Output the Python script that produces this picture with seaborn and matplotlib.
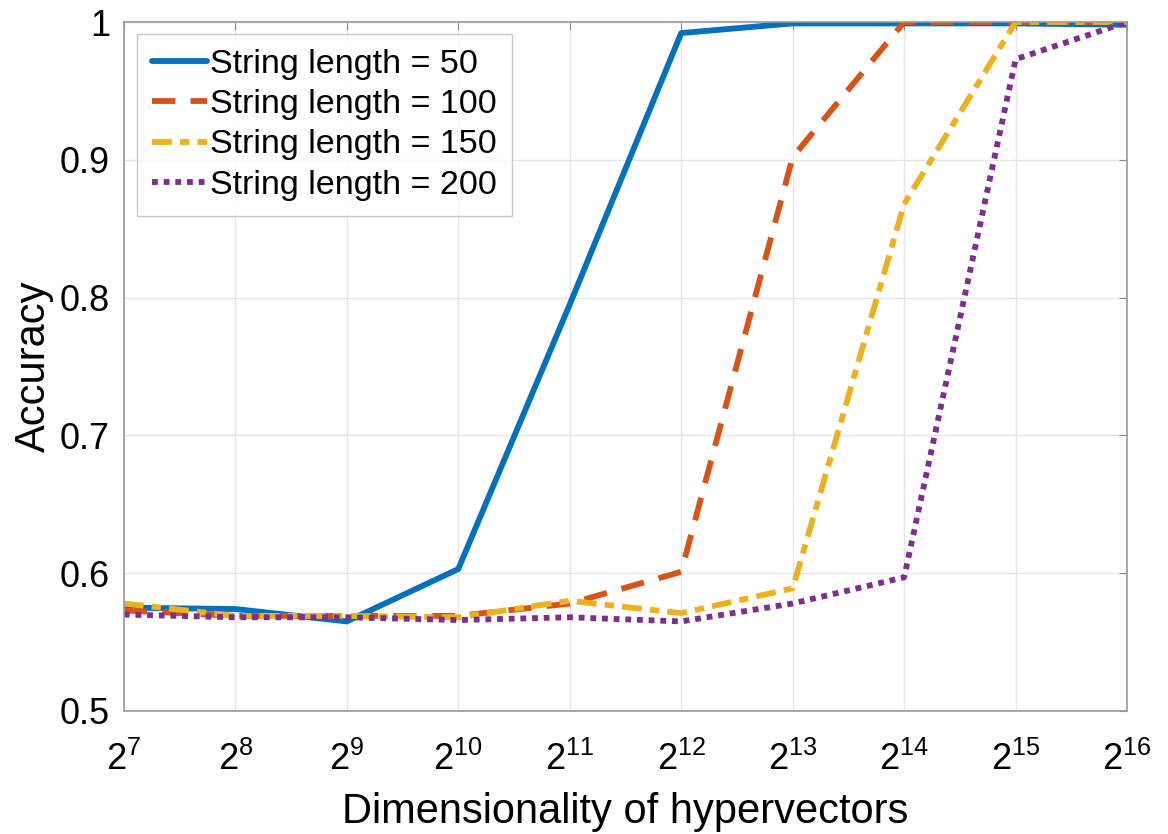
import matplotlib
matplotlib.use("Agg")
import matplotlib.pyplot as plt
import matplotlib.ticker as mtick
import pandas as pd
import seaborn as sns

# Inputs
dims = [2 ** p for p in range(7, 17)]
labels = ["String length = 50", "String length = 100",
          "String length = 150", "String length = 200"]
acc_50 = [0.575, 0.574, 0.565, 0.603, 0.795, 0.992, 0.999, 0.999, 0.999, 0.998]
acc_100 = [0.573, 0.569, 0.569, 0.569, 0.578, 0.601, 0.902, 1.0, 1.0, 1.0]
acc_150 = [0.578, 0.569, 0.569, 0.568, 0.580, 0.571, 0.589, 0.868, 1.0, 1.0]
acc_200 = [0.570, 0.568, 0.568, 0.566, 0.568, 0.565, 0.578, 0.597, 0.973, 1.0]
# Output
PATH_PLOT = "out.png"


def main():
    rows = []
    for lab, vals in zip(labels, [acc_50, acc_100, acc_150, acc_200]):
        for d, v in zip(dims, vals):
            rows.append({"dim": d, "acc": v, "series": lab})
    df = pd.DataFrame(rows)

    sns.set_style("white")
    plt.rcParams["font.family"] = ["Liberation Sans", "DejaVu Sans"]
    plt.rcParams["mathtext.fontset"] = "custom"
    plt.rcParams["mathtext.rm"] = "Liberation Sans"
    plt.rcParams["mathtext.it"] = "Liberation Sans"
    plt.rcParams["text.color"] = "black"
    plt.rcParams["axes.labelcolor"] = "black"
    plt.rcParams["xtick.color"] = "black"
    plt.rcParams["ytick.color"] = "black"

    colors = ["#0072BD", "#D95319", "#EDB120", "#7E2F8E"]
    dashes = {labels[0]: "", labels[1]: (4.0, 2.6),
              labels[2]: (3.4, 1.4, 1.6, 1.4), labels[3]: (1.0, 1.0)}

    fig, ax = plt.subplots(figsize=(11.68, 8.34), dpi=100)
    sns.lineplot(data=df, x="dim", y="acc", hue="series", style="series",
                 palette=colors, dashes=dashes, linewidth=4.2, ax=ax)

    ax.set_xscale("log", base=2)
    ax.set_xlim(2 ** 7, 2 ** 16)
    ax.set_ylim(0.5, 1.0)
    ax.xaxis.set_major_locator(mtick.FixedLocator(dims))
    ax.xaxis.set_minor_locator(mtick.NullLocator())
    ax.xaxis.set_major_formatter(mtick.LogFormatterSciNotation(base=2))
    ax.yaxis.set_major_locator(mtick.MultipleLocator(0.1))
    ax.yaxis.set_major_formatter(mtick.FuncFormatter(lambda v, p: f"{v:g}"))

    ax.grid(True, color="#e6e6e6", linewidth=1)
    ax.tick_params(direction="in", length=6, labelsize=26,
                   top=True, right=True, color="#8a8a8a")
    ax.tick_params(axis="x", pad=22)
    ax.tick_params(axis="y", pad=10)
    for s in ax.spines.values():
        s.set_color("#9a9a9a")
        s.set_linewidth(1.2)

    ax.set_xlabel("Dimensionality of hypervectors", fontsize=30, labelpad=10)
    ax.set_ylabel("Accuracy", fontsize=30, labelpad=4)

    leg = ax.legend(loc="upper left", fontsize=24.5, handlelength=1.6,
                    handletextpad=0.1, labelspacing=0.27, borderpad=0.45,
                    borderaxespad=0, fancybox=False,
                    bbox_to_anchor=(0.013, 0.983))
    leg.get_frame().set_edgecolor("#bbbbbb")
    leg.get_frame().set_linewidth(1)
    leg.set_title(None)

    fig.subplots_adjust(left=0.106, right=0.965, top=0.9736, bottom=0.1475)
    fig.savefig(PATH_PLOT, dpi=100)


if __name__ == '__main__':
    main()
